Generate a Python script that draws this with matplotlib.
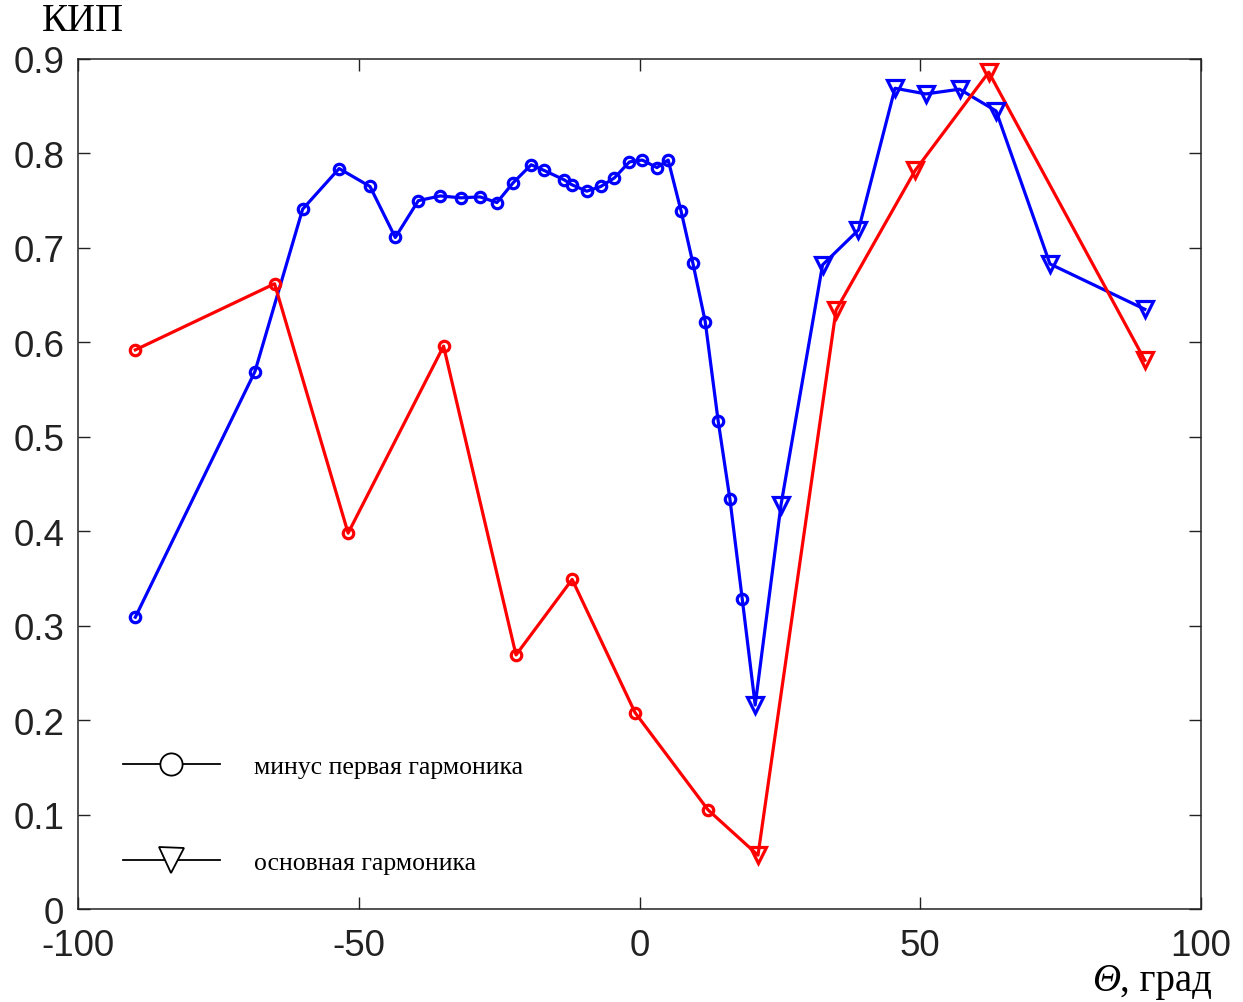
import numpy as np
import matplotlib.pyplot as plt
from matplotlib.lines import Line2D

plt.rcParams['axes.unicode_minus'] = False

# blue curve: circle part (minus first harmonic), then triangle part (main harmonic)
blue_m1_x = [-89.8, -68.5, -60.0, -53.5, -48.0, -43.5, -39.4, -35.5, -31.8, -28.4, -25.4,
             -22.5, -19.3, -17.0, -13.4, -12.1, -9.4, -6.9, -4.5, -1.8, 0.5, 3.1, 5.1,
             7.4, 9.5, 11.7, 14.0, 16.1, 18.3]
blue_m1_y = [0.309, 0.569, 0.741, 0.784, 0.765, 0.711, 0.750, 0.755, 0.753, 0.754, 0.748,
             0.769, 0.788, 0.782, 0.772, 0.767, 0.760, 0.765, 0.774, 0.791, 0.793, 0.785, 0.793,
             0.739, 0.684, 0.622, 0.517, 0.434, 0.328]
blue_0_x = [20.6, 25.2, 32.6, 39.0, 45.5, 51.0, 57.0, 63.5, 73.1, 90.0]
blue_0_y = [0.216, 0.428, 0.682, 0.719, 0.869, 0.863, 0.868, 0.845, 0.683, 0.635]

# red curve
red_m1_x = [-89.8, -65.0, -51.9, -34.9, -22.0, -12.0, -0.8, 12.2]
red_m1_y = [0.592, 0.662, 0.398, 0.596, 0.269, 0.349, 0.208, 0.105]
red_0_x = [21.1, 35.0, 49.1, 62.2, 90.0]
red_0_y = [0.057, 0.634, 0.782, 0.886, 0.581]

labels = ["минус первая гармоника", "основная гармоника"]

fig = plt.figure(figsize=(12.43, 10.03), dpi=100)
ax = fig.add_axes([0.0628, 0.0927, 0.9034, 0.8475])

for xs1, ys1, xs2, ys2, c in [(blue_m1_x, blue_m1_y, blue_0_x, blue_0_y, "#0000ff"),
                              (red_m1_x, red_m1_y, red_0_x, red_0_y, "#ff0000")]:
    ax.plot(xs1 + xs2, ys1 + ys2, color=c, lw=2.3, zorder=2)
    ax.plot(xs1, ys1, ls="none", marker="o", ms=7.5, mfc="none", mec=c, mew=2.3, zorder=3)
    ax.plot(xs2, ys2, ls="none", marker="v", ms=11, mfc="none", mec=c, mew=2.3, zorder=3)

ax.set_xlim(-100, 100)
ax.set_ylim(0, 0.9)
ax.set_xticks([-100, -50, 0, 50, 100])
ax.set_yticks(np.arange(0, 0.91, 0.1))
ax.set_yticklabels(["0"] + ["%.1f" % v for v in np.arange(0.1, 0.91, 0.1)])
ax.tick_params(direction="in", length=8.5, width=1, top=True, right=True,
               labelsize=26.5, colors="#222222")
ax.tick_params(axis="x", pad=14)
ax.tick_params(axis="y", pad=10)
for lab in ax.get_xticklabels() + ax.get_yticklabels():
    lab.set_fontfamily("Liberation Sans")
for s in ax.spines.values():
    s.set_linewidth(1.1)
    s.set_color("#222222")

fig.text(0.034, 0.96, "КИП", fontsize=28, family="Liberation Serif", va="bottom", ha="left")
# x label: italic theta + upright rest
t1 = fig.text(0.975, 0.003, ", град", fontsize=28, family="Liberation Serif",
              va="bottom", ha="right")
ax.annotate("Θ", xy=(0, 0), xycoords=t1, fontsize=28, family="Liberation Serif",
            style="italic", va="bottom", ha="right", annotation_clip=False)

handles = [Line2D([], [], color="black", lw=1.3, marker="o", ms=16, mfc="white", mec="black", mew=1.3),
           Line2D([], [], color="black", lw=1.3, marker="v", ms=18, mfc="white", mec="black", mew=1.3)]
ax.legend(handles, labels, loc="lower left", bbox_to_anchor=(0.019, 0.014), frameon=False,
          prop={"family": "Liberation Serif", "size": 18.5}, handlelength=3.8,
          handletextpad=1.3, labelspacing=2.85)

fig.savefig("out.png", dpi=100)
